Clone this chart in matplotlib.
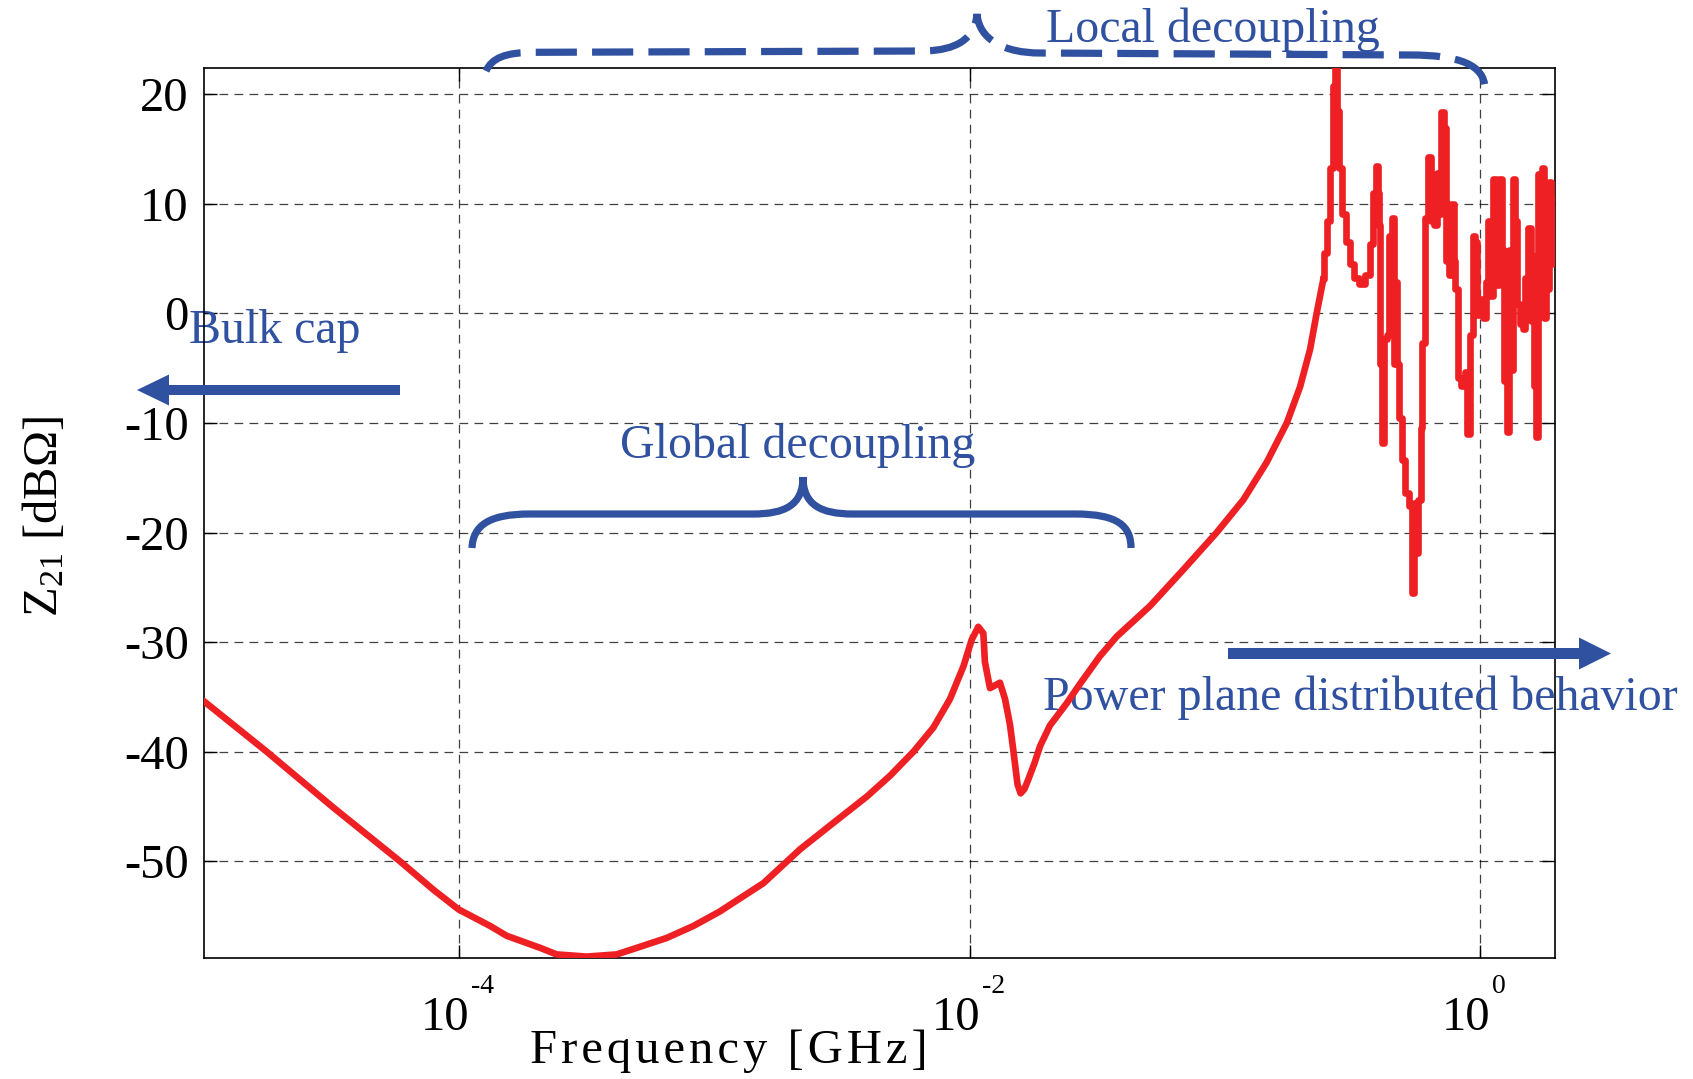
import numpy as np
import matplotlib.pyplot as plt
from matplotlib.path import Path
from matplotlib.patches import PathPatch, FancyArrow
from matplotlib.ticker import NullLocator
from matplotlib.transforms import offset_copy

plt.rcParams['font.family'] = ['Liberation Serif', 'DejaVu Serif']
plt.rcParams['mathtext.default'] = 'regular'
plt.rcParams['axes.unicode_minus'] = False

# Z21 curve (log10 of frequency in GHz, dB-ohm)
log_freq = [
    -5.0, -4.754, -4.493, -4.232, -4.101, -4.002, -3.879, -3.814, -3.683, -3.618,
    -3.50, -3.383, -3.317, -3.187, -3.082, -2.98, -2.808, -2.664, -2.534, -2.403,
    -2.312, -2.22, -2.142, -2.077, -2.024, -1.992, -1.966, -1.946, -1.94, -1.92,
    -1.881, -1.861, -1.842, -1.829, -1.812, -1.800, -1.785, -1.771, -1.745, -1.724,
    -1.685, -1.62, -1.567, -1.49, -1.424, -1.293, -1.163, -1.032, -0.927, -0.836,
    -0.757, -0.705, -0.666, -0.640, -0.614, -0.607, -0.594, -0.581, -0.572, -0.562,
    -0.555, -0.549, -0.536, -0.516, -0.503, -0.483, -0.464, -0.438, -0.425, -0.411,
    -0.402, -0.398, -0.392, -0.390, -0.379, -0.372, -0.359, -0.353, -0.340, -0.337,
    -0.326, -0.324, -0.313, -0.300, -0.287, -0.268, -0.264, -0.255, -0.248, -0.235,
    -0.229, -0.222, -0.209, -0.196, -0.189, -0.183, -0.176, -0.163, -0.157, -0.146,
    -0.137, -0.130, -0.124, -0.118, -0.105, -0.102, -0.091, -0.085, -0.065, -0.052,
    -0.046, -0.032, -0.024, -0.013, -0.007, 0.007, 0.020, 0.026, 0.036, 0.046,
    0.059, 0.068, 0.078, 0.091, 0.098, 0.111, 0.118, 0.124, 0.133, 0.144,
    0.150, 0.163, 0.172, 0.183, 0.196, 0.202, 0.209, 0.215, 0.222, 0.229,
    0.238, 0.246, 0.255, 0.261, 0.268, 0.274, 0.281, 0.287, 0.297,
]
z21_db = [
    -35.4, -40.0, -45.1, -50.0, -52.6, -54.4, -55.9, -56.8, -57.9, -58.5,
    -58.7, -58.5, -58.0, -57.0, -55.9, -54.6, -52.0, -48.9, -46.5, -44.1,
    -42.2, -40.0, -37.8, -35.2, -32.2, -29.8, -28.6, -29.2, -31.8, -34.2,
    -33.7, -35.2, -37.5, -39.8, -43.0, -43.8, -43.4, -42.6, -41.0, -39.5,
    -37.6, -35.6, -33.8, -31.3, -29.5, -26.7, -23.4, -20.0, -17.0, -13.6,
    -10.0, -6.7, -3.3, 0.0, 3.1, 5.5, 8.4, 13.3, 20.8, 22.8,
    18.5, 13.3, 9.1, 6.5, 4.5, 3.2, 2.7, 3.5, 6.3, 11.0,
    13.5, 11.0, 8.1, -4.6, -11.8, -2.3, -2.0, 7.1, 8.7, -4.6,
    2.9, -4.6, -9.5, -13.4, -16.4, -17.6, -25.5, -17.3, -21.9, -17.0,
    -10.5, -2.7, 8.7, 14.3, 8.4, 11.0, 8.1, 12.8, 9.1, 18.4,
    16.9, 4.8, 10.0, 3.5, 10.0, 4.8, 2.2, -5.9, -6.6, -5.3,
    -11.0, -2.0, 7.1, 6.5, -0.1, 1.3, -0.4, 2.9, 8.4, 1.6,
    12.3, 2.6, 12.3, 5.8, -6.2, -10.8, 5.8, -5.2, 12.3, 8.4,
    0.9, -1.0, -1.4, 3.2, 7.8, -0.7, 5.2, -6.6, -11.3, 12.7,
    1.6, 13.3, -0.4, 11.7, 2.2, 12.0, 4.5, 10.4, 6.8,
]
freq = 10.0 ** np.array(log_freq)
z21 = np.array(z21_db)

y_ticks = [-50, -40, -30, -20, -10, 0, 10, 20]
x_ticks = [1e-4, 1e-2, 1e0]
x_tick_exp = ['-4', '-2', '0']

RED = '#EE2024'
BLUE = '#3050A0'
W, H = 1693, 1079


def fig_xy(px, py):
    # reference pixel -> figure fraction
    return px / W, 1 - py / H


fig = plt.figure(figsize=(W / 100, H / 100), dpi=100)
ax = fig.add_axes([204 / W, 1 - 957.7 / H, 1351 / W, 889.7 / H])

# smooth part as a line, resonant part as steps (the original looks stair-stepped)
k = 55
ax.semilogx(freq[:k], z21[:k], color=RED, lw=4.8, zorder=3)
ax.semilogx(freq[k - 1:], z21[k - 1:], color=RED, lw=4.8, zorder=3,
            drawstyle='steps-mid')
ax.set_xlim(1e-5, 10 ** 0.294)
ax.set_ylim(-58.8, 22.4)

ax.set_xticks(x_ticks)
ax.set_xticklabels([])
ax.xaxis.set_minor_locator(NullLocator())
ax.set_yticks(y_ticks)
ax.tick_params(direction='in', length=9.5, width=1, top=True, right=True,
               labelsize=35, pad=11)
ax.grid(True, color='k', ls=(0, (7, 5)), lw=0.9, alpha=0.75)
for s in ax.spines.values():
    s.set_linewidth(1.2)

# x tick labels as 10 with a small exponent
for t, e in zip(x_ticks, x_tick_exp):
    ax.text(t, 0, '10', fontsize=35, ha='center', va='baseline',
            transform=offset_copy(ax.get_xaxis_transform(), fig=fig,
                                  x=-14, y=-(1030 - 957.7), units='dots'))
    ax.text(t, 0, e, fontsize=20, ha='left', va='baseline',
            transform=offset_copy(ax.get_xaxis_transform(), fig=fig,
                                  x=12, y=-(993 - 957.7), units='dots'))

fig.text(*fig_xy(729, 1063), '\u200a'.join('Frequency [GHz]'), fontsize=35,
         ha='center', va='baseline')
fig.text(*fig_xy(44, 516), '$Z_{21}$ [dBΩ]', fontsize=35, rotation=90,
         ha='center', va='center')

# annotations
notes = [
    ('Local decoupling', 1046, 41.7),
    ('Global decoupling', 620, 458.3),
    ('Bulk cap', 189, 343.3),
    ('Power plane distributed behavior', 1043, 710),
]
for txt, px, py in notes:
    ax.text(*fig_xy(px, py), txt, fontsize=34.5, color=BLUE, ha='left',
            va='baseline', transform=fig.transFigure, clip_on=False, zorder=2.5)

# arrows: (tail x, tip x, y, shaft width, head width, head length) in pixels
arrows = [(400, 137, 390, 10, 31, 32), (1228, 1611, 653.5, 11, 32, 32)]
for x0, x1, y, w, hw, hl in arrows:
    fx0, fy0 = fig_xy(x0, y)
    fx1, _ = fig_xy(x1, y)
    fig.add_artist(FancyArrow(fx0, fy0, fx1 - fx0, 0, width=w / H,
                              head_width=hw / H, head_length=hl / W,
                              length_includes_head=True, color=BLUE, lw=0,
                              transform=fig.transFigure))

# braces
brace_codes = [Path.MOVETO] + [Path.CURVE4] * 3 + [Path.LINETO] + [Path.CURVE4] * 6 \
    + [Path.LINETO] + [Path.CURVE4] * 3
top_brace = [(486, 71), (492, 58), (505, 52.3), (535, 52.3), (925, 51),
             (955, 50), (975, 40), (977, 14), (979, 40), (1005, 53), (1040, 53),
             (1410, 55), (1460, 55), (1484, 65), (1485, 88)]
global_brace = [(472, 548), (473, 526), (488, 514), (530, 514), (753, 514),
                (785, 514), (803, 505), (803, 477), (803, 505), (821, 514), (853, 514),
                (1075, 514), (1118, 514), (1131, 526), (1131, 548)]
for pts, ls in [(top_brace, (0, (5.7, 2.1))), (global_brace, '-')]:
    verts = [fig_xy(px, py) for px, py in pts]
    fig.add_artist(PathPatch(Path(verts, brace_codes), fill=False, ec=BLUE,
                             lw=5.2, ls=ls, capstyle='butt',
                             transform=fig.transFigure))

fig.savefig('out.png', dpi=100)
